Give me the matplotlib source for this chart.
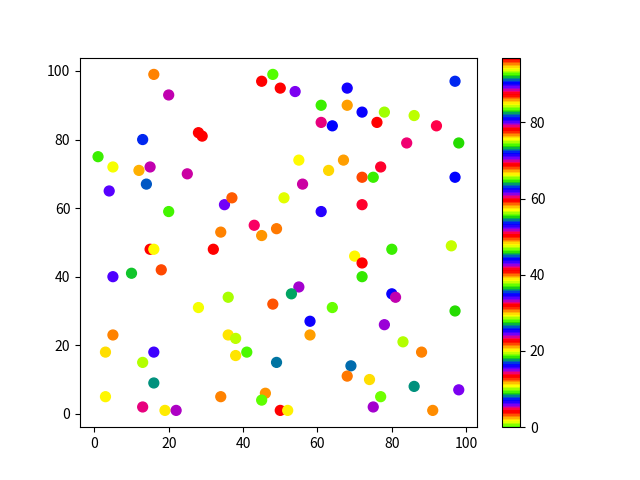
import matplotlib
matplotlib.use('Agg')
import matplotlib.pyplot as plt

plt.rcParams['font.family'] = ['Noto Sans CJK SC', 'DejaVu Sans']

# point positions
x = [16, 20, 13, 1, 5, 12, 15, 14, 4, 25,
     28, 29, 20, 35, 37, 43, 34, 45, 49, 45,
     48, 50, 54, 68, 97, 61, 68, 72, 78, 86,
     61, 64, 76, 92, 84, 98, 55, 67, 63, 77,
     72, 75, 97, 56, 51, 61, 72, 15, 16, 32,
     5, 10, 18, 36, 28, 48, 5, 36, 38, 3,
     16, 13, 38, 41, 49, 16, 3, 34, 46, 45,
     13, 19, 22, 50, 52, 80, 96, 70, 72, 72,
     55, 53, 64, 80, 81, 97, 58, 58, 78, 83,
     88, 69, 68, 74, 86, 98, 77, 75, 91]
y = [99, 93, 80, 75, 72, 71, 72, 67, 65, 70,
     82, 81, 59, 61, 63, 55, 53, 52, 54, 97,
     99, 95, 94, 95, 97, 90, 90, 88, 88, 87,
     85, 84, 85, 84, 79, 79, 74, 74, 71, 72,
     69, 69, 69, 67, 63, 59, 61, 48, 48, 48,
     40, 41, 42, 34, 31, 32, 23, 23, 22, 18,
     18, 15, 17, 18, 15, 9, 5, 5, 6, 4,
     2, 1, 1, 1, 1, 48, 49, 46, 44, 40,
     37, 35, 31, 35, 34, 30, 27, 23, 26, 21,
     18, 14, 11, 10, 8, 7, 5, 2, 1]
# colour values (estimated from the prism_r colour of each point)
c = [2.78, 14.48, 25.89, 36.95, 38.34, 48.68, 60.66, 72.72, 80.20, 88.51,
     96.76, 3.94, 9.37, 24.50, 30.91, 41.82, 49.19, 58.10, 67.75, 78.20,
     92.64, 96.76, 5.80, 16.06, 26.08, 37.04, 39.68, 53.19, 56.29, 65.57,
     78.85, 90.32, 96.25, 4.69, 14.11, 27.66, 29.47, 39.54, 48.17, 60.01,
     67.89, 83.03, 90.32, 88.51, 93.79, 6.78, 13.78, 22.50, 29.24, 41.07,
     52.63, 64.18, 68.03, 74.86, 84.51, 95.51, 3.00, 11.25, 19.40, 29.82,
     43.35, 47.01, 57.31, 74.07, 81.87, 91.66, 94.21, 2.78, 11.83, 18.65,
     32.82, 38.89, 51.79, 59.63, 66.36, 83.03, 84.14, 93.98, 3.94, 18.38,
     24.13, 36.20, 37.22, 53.19, 60.66, 73.74, 81.04, 85.95, 88.74, 93.42,
     3.00, 17.26, 21.56, 29.61, 45.25, 52.21, 55.78, 70.17, 76.81]

fig = plt.figure(figsize=(6.4, 4.8), dpi=100)
sc = plt.scatter(x, y, c=c, cmap='prism_r', vmin=0, vmax=97, s=50)
plt.colorbar(sc)

plt.savefig('out.png', dpi=100)
